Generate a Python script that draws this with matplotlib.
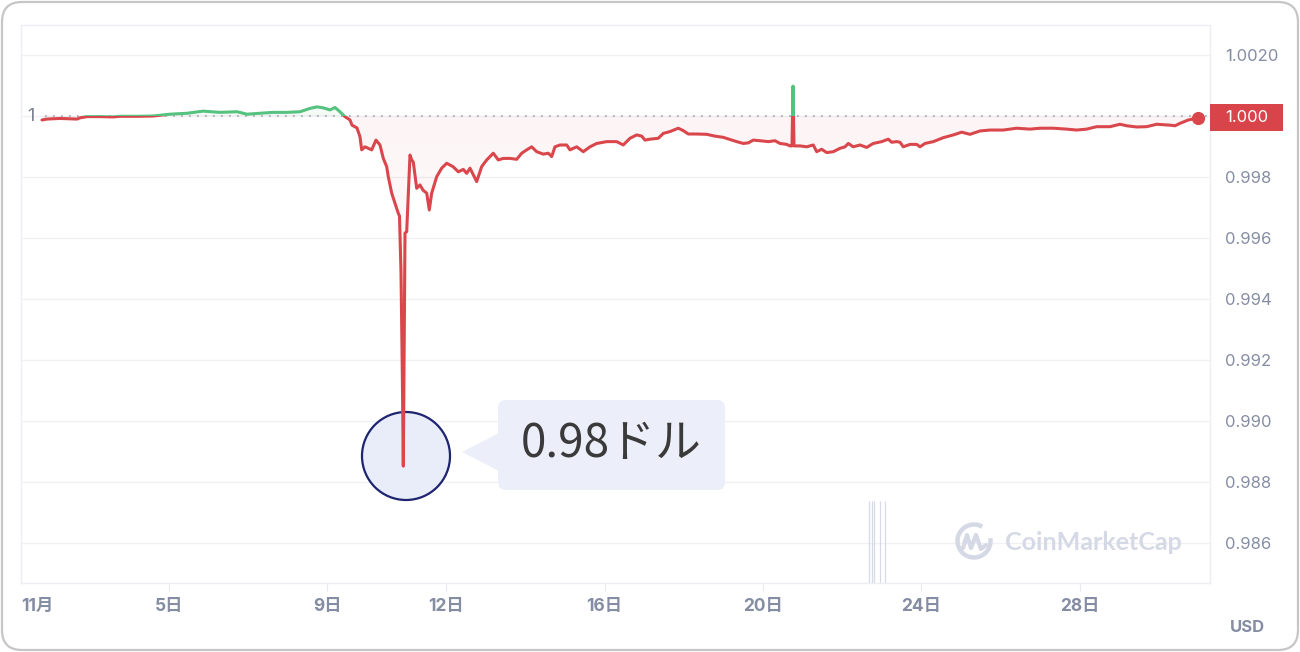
import numpy as np
import matplotlib
matplotlib.use("Agg")
import matplotlib.pyplot as plt
from matplotlib.patches import Rectangle, FancyBboxPatch, Circle, Polygon, Arc, PathPatch
from matplotlib.transforms import Affine2D, blended_transform_factory
from matplotlib.path import Path
from matplotlib.colors import to_rgb

# ---------------- data ----------------
day = [1.793,1.919,2.247,2.677,2.753,2.929,3.258,3.586,3.763,4.192,
       4.596,5.025,5.455,5.859,6.288,6.717,6.970,7.298,7.626,7.980,
       8.308,8.561,8.737,8.889,9.066,9.192,9.318,9.444,9.571,9.621,
       9.747,9.823,9.866,9.949,10.033,10.119,10.227,10.328,10.412,10.497,
       10.538,10.624,10.707,10.790,10.821,10.859,10.892,10.917,10.934,10.960,
       11.003,11.086,11.129,11.169,11.255,11.338,11.414,11.508,11.573,11.634,
       11.760,11.886,12.013,12.172,12.306,12.432,12.518,12.601,12.727,12.770,
       12.896,13.023,13.189,13.316,13.442,13.611,13.780,13.907,14.033,14.159,
       14.285,14.452,14.578,14.664,14.747,14.874,15.043,15.126,15.295,15.462,
       15.631,15.800,16.053,16.305,16.472,16.641,16.810,16.937,17.020,17.146,
       17.356,17.482,17.652,17.861,17.987,18.114,18.326,18.578,18.788,18.998,
       19.210,19.336,19.503,19.629,19.755,19.924,20.134,20.303,20.429,20.598,
       20.682,20.732,20.758,20.783,20.808,20.934,21.104,21.270,21.356,21.482,
       21.609,21.775,21.944,22.071,22.154,22.280,22.449,22.618,22.785,22.997,
       23.164,23.250,23.376,23.460,23.543,23.712,23.881,23.965,24.091,24.301,
       24.553,24.806,25.018,25.227,25.480,25.732,26.068,26.407,26.742,26.995,
       27.331,27.669,27.922,28.174,28.427,28.763,29.015,29.184,29.437,29.689,
       29.942,30.278,30.404,30.530,30.740,30.992]

price = [0.99987,0.99990,0.99992,0.99990,0.99994,0.99998,0.99998,0.99997,0.99999,0.99999,
         1.00000,1.00006,1.00009,1.00016,1.00012,1.00014,1.00006,1.00009,1.00012,1.00012,
         1.00014,1.00025,1.00030,1.00027,1.00020,1.00028,1.00014,0.99998,0.99987,0.99970,
         0.99961,0.99932,0.99889,0.99899,0.99894,0.99889,0.99921,0.99905,0.99861,0.99834,
         0.99801,0.99747,0.99714,0.99681,0.99672,0.99485,0.99157,0.98852,0.99157,0.99616,
         0.99621,0.99872,0.99856,0.99849,0.99763,0.99774,0.99757,0.99747,0.99692,0.99747,
         0.99801,0.99829,0.99845,0.99834,0.99817,0.99825,0.99812,0.99829,0.99796,0.99785,
         0.99834,0.99856,0.99878,0.99856,0.99861,0.99861,0.99858,0.99878,0.99889,0.99899,
         0.99883,0.99875,0.99878,0.99867,0.99899,0.99905,0.99905,0.99889,0.99899,0.99883,
         0.99899,0.99910,0.99916,0.99916,0.99905,0.99927,0.99938,0.99934,0.99921,0.99924,
         0.99927,0.99943,0.99949,0.99960,0.99952,0.99941,0.99941,0.99940,0.99934,0.99930,
         0.99921,0.99916,0.99910,0.99912,0.99921,0.99919,0.99916,0.99919,0.99910,0.99907,
         0.99902,0.99902,1.00098,0.99902,0.99902,0.99902,0.99899,0.99905,0.99883,0.99891,
         0.99880,0.99883,0.99894,0.99899,0.99910,0.99899,0.99905,0.99897,0.99910,0.99916,
         0.99924,0.99914,0.99916,0.99914,0.99899,0.99907,0.99907,0.99899,0.99910,0.99916,
         0.99929,0.99938,0.99947,0.99940,0.99951,0.99954,0.99954,0.99960,0.99957,0.99960,
         0.99960,0.99957,0.99954,0.99957,0.99965,0.99965,0.99973,0.99968,0.99964,0.99965,
         0.99973,0.99970,0.99968,0.99976,0.99987,0.99994]

baseline = 1.0
baseline_label = "1"
x_ticks = [5, 9, 12, 16, 20, 24, 28]
x_labels = ["5日", "9日", "12日", "16日", "20日", "24日", "28日"]
month_label = "11月"
y_ticks = [0.986, 0.988, 0.990, 0.992, 0.994, 0.996, 0.998, 1.000, 1.002]
y_labels = ["0.986", "0.988", "0.990", "0.992", "0.994", "0.996", "0.998", "", "1.0020"]
volume_days = [22.677, 22.753, 22.803, 22.955, 23.081]
volume_top = 0.98738
currency = "USD"
callout_text = "0.98ドル"
watermark = "CoinMarketCap"

# ---------------- style ----------------
RED = "#d9474c"
GREEN = "#55c27f"
TICK = "#858da3"
GRID = "#f0f1f5"
W, H = 1300, 652
plt.rcParams["font.family"] = ["Inter", "Noto Sans CJK JP", "DejaVu Sans"]

fig = plt.figure(figsize=(W / 100, H / 100), dpi=100)
fig.patch.set_facecolor("white")
ax = fig.add_axes([21 / W, 1 - 583 / H, (1210 - 21) / W, (583 - 25) / H])
xmin, xmax = 1.263, 31.288
ymin, ymax = 0.984689, 1.002984

px = Affine2D().scale(1 / W, -1 / H).translate(0, 1) + fig.transFigure

# grid
for t in y_ticks:
    ax.axhline(t, color=GRID, lw=1.0, zorder=0)
for s in ax.spines.values():
    s.set_color("#eceef3")
    s.set_linewidth(1.0)

# volume-like faint lines
ax.vlines(volume_days, ymin, volume_top, color="#d6d9e6", lw=0.9, zorder=1)

# gradient fill between line and baseline
verts = list(zip(day, price)) + [(day[-1], baseline), (day[0], baseline)]
poly = Polygon(verts, closed=True, facecolor="none", edgecolor="none")
ax.add_patch(poly)
img = np.zeros((256, 1, 4))
img[..., :3] = to_rgb(RED)
img[..., 3] = np.linspace(0.055, 0.0, 256)[:, None]
im = ax.imshow(img, extent=[xmin, xmax, 0.9875, baseline], aspect="auto",
               origin="upper", zorder=1, interpolation="bilinear")
im.set_clip_path(poly)
img2 = np.zeros((64, 1, 4))
img2[..., :3] = to_rgb(GREEN)
img2[..., 3] = np.linspace(0.0, 0.07, 64)[:, None]
im2 = ax.imshow(img2, extent=[xmin, xmax, baseline, 1.0011], aspect="auto",
                origin="upper", zorder=1, interpolation="bilinear")
im2.set_clip_path(poly)

# dotted baseline
ax.hlines(baseline, 1.87, xmax, colors="#9ea3b3", lw=1.2,
          linestyles=[(0, (1, 3.8))], zorder=2)
ax.text(xmin + 0.15, baseline, baseline_label, color="#7d8395",
        fontsize=13, ha="left", va="center", zorder=3)

# price line coloured by side of baseline
LW = 2.2
l_red, = ax.plot(day, price, color=RED, lw=LW, zorder=4,
                 solid_joinstyle="round", solid_capstyle="round")
l_red.set_clip_path(Rectangle((xmin, ymin - 1), xmax - xmin, baseline - ymin + 1,
                              transform=ax.transData))
l_green, = ax.plot(day, price, color=GREEN, lw=LW, zorder=4,
                   solid_joinstyle="round", solid_capstyle="round")
l_green.set_clip_path(Rectangle((xmin, baseline), xmax - xmin, 1,
                                transform=ax.transData))
ax.plot([day[-1]], [price[-1]], "o", color=RED, ms=8.5, zorder=5, clip_on=False)

ax.set_xlim(xmin, xmax)
ax.set_ylim(ymin, ymax)

# ticks
ax.set_xticks(x_ticks, x_labels)
ax.tick_params(axis="x", length=6, color="#e8eaf0", labelcolor=TICK,
               labelsize=12.5, pad=5)
for lb in ax.get_xticklabels():
    lb.set_fontweight("bold")
ax.yaxis.tick_right()
ax.set_yticks(y_ticks, y_labels)
ax.tick_params(axis="y", length=0, labelcolor=TICK, labelsize=12, pad=11)

trx = blended_transform_factory(ax.transAxes, px)
ax.text(0, 606, month_label, transform=trx, ha="left", va="center",
        color=TICK, fontsize=12.5, fontweight="bold", clip_on=False)

# current price badge
trb = blended_transform_factory(px, ax.transData)
badge = Rectangle((1210, price[-1] - 0.00044), 73, 0.00088, transform=trb,
                  facecolor="#d9434a", edgecolor="none", clip_on=False, zorder=6)
ax.add_patch(badge)
ax.text(1225, price[-1], f"{price[-1]:.3f}", transform=trb, color="white",
        fontsize=12, ha="left", va="center", clip_on=False, zorder=7)

fig.text(1247 / W, 1 - 627 / H, currency, color=TICK, fontsize=12,
         fontweight="bold", ha="center", va="center")

# callout circle + box
circ = Circle((406, 456), 44, transform=px, facecolor="#e9ecf9",
              edgecolor="#1d2470", lw=1.6, clip_on=False, zorder=3)
ax.add_patch(circ)
box = FancyBboxPatch((506, 408), 211, 74, boxstyle="round,pad=8,rounding_size=8",
                     transform=px, facecolor="#eceffa", edgecolor="none",
                     clip_on=False, zorder=6)
ax.add_patch(box)
tri = Polygon([(462, 452), (499, 433), (499, 471)], closed=True, transform=px,
              facecolor="#eceffa", edgecolor="none", clip_on=False, zorder=6)
ax.add_patch(tri)
ax.text(611, 444, callout_text, transform=px, ha="center", va="center",
        fontsize=33, color="#3a3a3a", family=["Noto Sans CJK JP", "DejaVu Sans"],
        clip_on=False, zorder=7)

# watermark
WM = "#d5d9e6"
ax.add_patch(Arc((974, 541), 33, 33, theta1=-10, theta2=300, transform=px,
                 color=WM, lw=3.2, clip_on=False, zorder=2))
mpath = Path([(963, 548), (967, 535), (971, 548), (976, 535), (981, 549), (986, 545)])
ax.add_patch(PathPatch(mpath, transform=px, facecolor="none", edgecolor=WM,
                       lw=3.0, capstyle="round", joinstyle="round",
                       clip_on=False, zorder=2))
ax.text(1005, 543, watermark, transform=px, ha="left", va="center",
        fontsize=18, color=WM, family=["Lato", "DejaVu Sans"], fontweight="bold",
        clip_on=False, zorder=2)

# outer rounded frame
frame = FancyBboxPatch((22, 22), W - 44, H - 44,
                       boxstyle="round,pad=20,rounding_size=20", transform=px,
                       facecolor="none", edgecolor="#c6c6c6", lw=1.6)
fig.add_artist(frame)

fig.savefig("out.png", dpi=100, facecolor="white")
